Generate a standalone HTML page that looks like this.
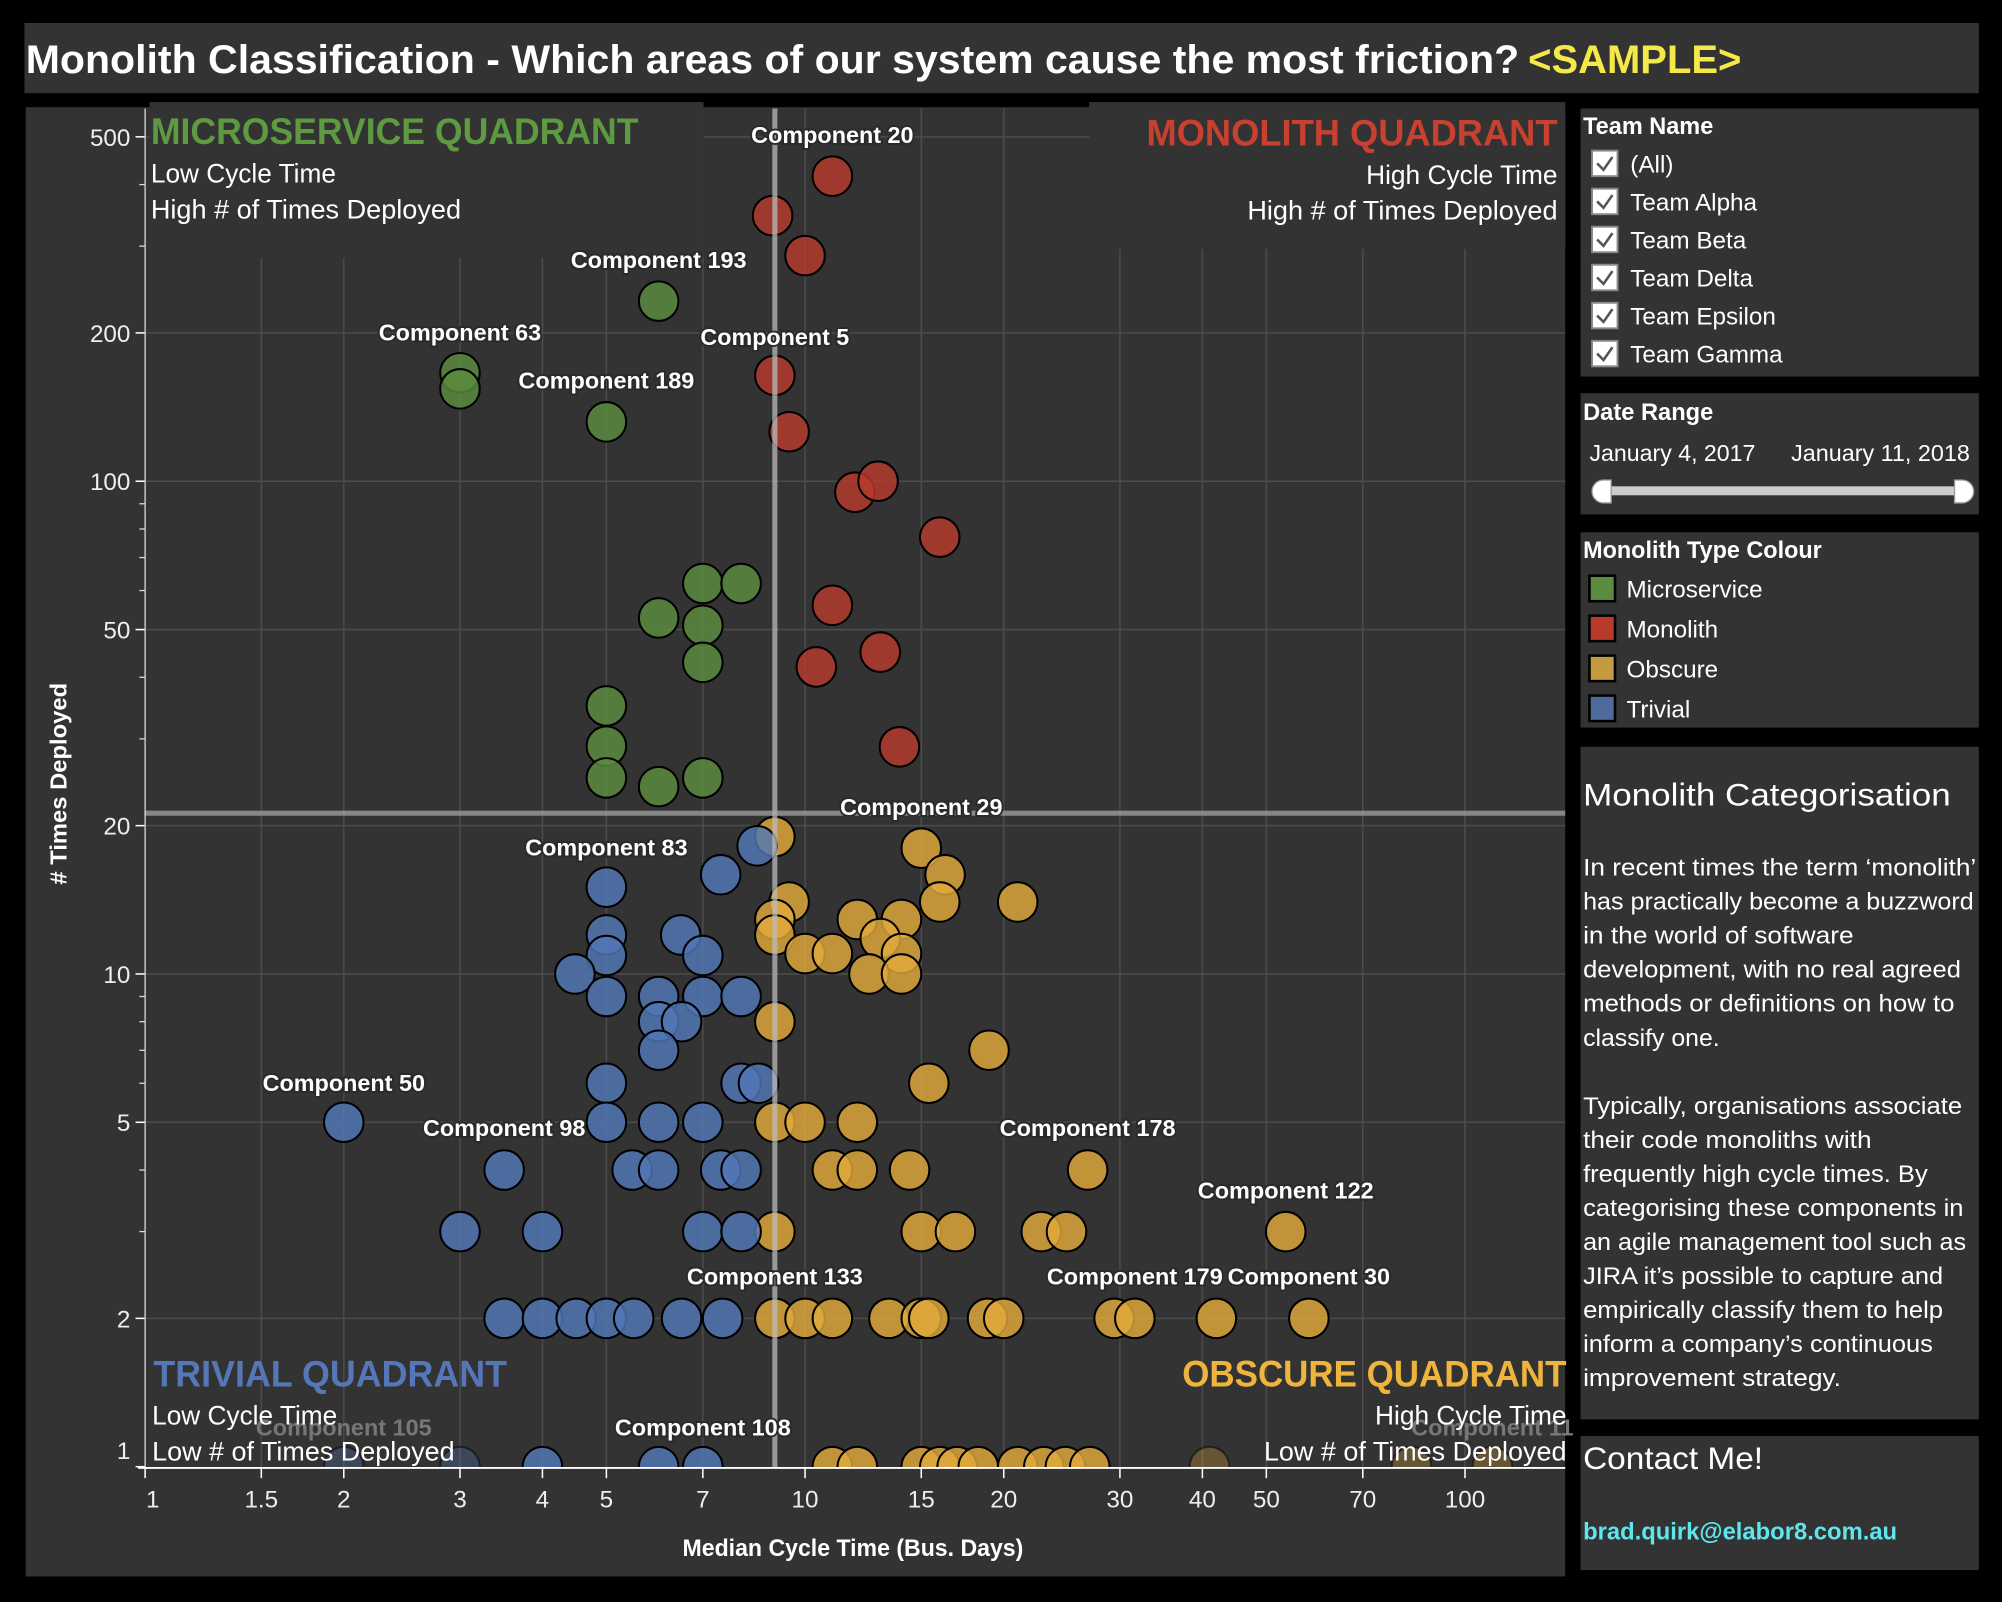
<!DOCTYPE html>
<html><head><meta charset="utf-8">
<style>
html,body{margin:0;padding:0;background:#000;}
svg{display:block;}
text{font-family:"Liberation Sans",sans-serif;}
</style></head>
<body>
<svg id="root" width="2002" height="1602" viewBox="0 0 1568 1255" xmlns="http://www.w3.org/2000/svg">
<rect x="0" y="0" width="1568" height="1255" fill="#000"/>
<rect x="19" y="18" width="1531" height="55" fill="#333"/>
<text x="20" y="57" font-size="31" font-weight="bold" fill="#fff" textLength="1170" lengthAdjust="spacingAndGlyphs">Monolith Classification - Which areas of our system cause the most friction?</text>
<text x="1197" y="57" font-size="31" font-weight="bold" fill="#f5e94a" textLength="167" lengthAdjust="spacingAndGlyphs">&lt;SAMPLE&gt;</text>

<rect x="20" y="84" width="1206" height="1151" fill="#333"/>
<defs><clipPath id="plotclip"><rect x="113" y="85" width="1113" height="1065"/></clipPath></defs>
<g id="grid"></g>
<rect x="117" y="80" width="434" height="122" fill="#333"/>
<rect x="853" y="80" width="373" height="115" fill="#333"/>
<g id="marks" clip-path="url(#plotclip)"></g>
<g id="reflines"></g>
<g id="axes"></g>
<g id="labels"></g>

<text x="118" y="113" font-size="29" font-weight="bold" fill="#5e9a42" textLength="382" lengthAdjust="spacingAndGlyphs">MICROSERVICE QUADRANT</text>
<text x="118" y="143" font-size="21" fill="#fff" textLength="145" lengthAdjust="spacingAndGlyphs">Low Cycle Time</text>
<text x="118" y="171" font-size="21" fill="#fff" textLength="243" lengthAdjust="spacingAndGlyphs">High # of Times Deployed</text>
<text x="1220" y="114" font-size="29" font-weight="bold" fill="#c8402f" text-anchor="end" textLength="322" lengthAdjust="spacingAndGlyphs">MONOLITH QUADRANT</text>
<text x="1220" y="144" font-size="21" fill="#fff" text-anchor="end" textLength="150" lengthAdjust="spacingAndGlyphs">High Cycle Time</text>
<text x="1220" y="172" font-size="21" fill="#fff" text-anchor="end" textLength="243" lengthAdjust="spacingAndGlyphs">High # of Times Deployed</text>
<text x="120" y="1086" font-size="29" font-weight="bold" fill="#5577b8" textLength="277" lengthAdjust="spacingAndGlyphs">TRIVIAL QUADRANT</text>
<text x="119" y="1116" font-size="21" fill="#fff" textLength="145" lengthAdjust="spacingAndGlyphs">Low Cycle Time</text>
<text x="119" y="1144" font-size="21" fill="#fff" textLength="237" lengthAdjust="spacingAndGlyphs">Low # of Times Deployed</text>
<text x="1227" y="1086" font-size="29" font-weight="bold" fill="#eeb43c" text-anchor="end" textLength="301" lengthAdjust="spacingAndGlyphs">OBSCURE QUADRANT</text>
<text x="1227" y="1116" font-size="21" fill="#fff" text-anchor="end" textLength="150" lengthAdjust="spacingAndGlyphs">High Cycle Time</text>
<text x="1227" y="1144" font-size="21" fill="#fff" text-anchor="end" textLength="237" lengthAdjust="spacingAndGlyphs">Low # of Times Deployed</text>

<text transform="translate(52,614) rotate(-90)" font-size="18" font-weight="bold" fill="#fff" text-anchor="middle" textLength="158" lengthAdjust="spacingAndGlyphs"># Times Deployed</text>
<text x="668" y="1219" font-size="19" font-weight="bold" fill="#fff" text-anchor="middle" textLength="267" lengthAdjust="spacingAndGlyphs">Median Cycle Time (Bus. Days)</text>

<g>
<rect x="1238" y="85" width="312" height="210" fill="#333"/>
<text x="1240" y="105" font-size="19" font-weight="bold" fill="#fff" textLength="102" lengthAdjust="spacingAndGlyphs">Team Name</text>
<g id="teams"></g>
</g>
<g>
<rect x="1238" y="308" width="312" height="95" fill="#333"/>
<text x="1240" y="329" font-size="19" font-weight="bold" fill="#fff" textLength="102" lengthAdjust="spacingAndGlyphs">Date Range</text>
<text x="1245" y="361" font-size="18" fill="#fff" textLength="130" lengthAdjust="spacingAndGlyphs">January 4, 2017</text>
<text x="1543" y="361" font-size="18" fill="#fff" text-anchor="end" textLength="140" lengthAdjust="spacingAndGlyphs">January 11, 2018</text>
<rect x="1254" y="381" width="280" height="7" fill="#ccc"/>
<path d="M1262,376 L1256,376 A8,8 0 0 0 1256,394 L1262,394 Z" fill="#fff" stroke="#999" stroke-width="1"/>
<path d="M1531,376 L1537,376 A8,8 0 0 1 1537,394 L1531,394 Z" fill="#fff" stroke="#999" stroke-width="1"/>
</g>
<g>
<rect x="1238" y="417" width="312" height="153" fill="#333"/>
<text x="1240" y="437" font-size="19" font-weight="bold" fill="#fff" textLength="187" lengthAdjust="spacingAndGlyphs">Monolith Type Colour</text>
<g id="legend"></g>
</g>
<g>
<rect x="1238" y="585" width="312" height="527" fill="#333"/>
<text x="1240" y="631" font-size="25" fill="#fff" textLength="288" lengthAdjust="spacingAndGlyphs">Monolith Categorisation</text>
<g id="para"></g>
</g>
<g>
<rect x="1238" y="1125" width="312" height="105" fill="#333"/>
<text x="1240" y="1151" font-size="25" fill="#fff" textLength="141" lengthAdjust="spacingAndGlyphs">Contact Me!</text>
<text x="1240" y="1206" font-size="19" font-weight="bold" fill="#5ee6ee" textLength="246" lengthAdjust="spacingAndGlyphs">brad.quirk@elabor8.com.au</text>
</g>
</svg>
<script>
// ---- data ----
const microX = [6, 3, 3, 5, 7, 8, 6, 7, 7, 5, 5, 5, 6, 7];
const microY = [232, 166, 154, 132, 62, 62, 52.8, 51, 42.9, 35, 29, 25, 24, 25];
const monoX = [11, 8.93, 10, 9, 9.46, 11.9, 12.9, 16, 11, 10.4, 13, 13.9];
const monoY = [416, 346, 287, 164, 126, 95, 100, 77, 56, 42, 45, 28.9];
const trivX = [2, 3.5, 3, 4, 8.46, 7.45, 5, 5, 5, 6.48, 7, 4.48, 5, 6, 7, 8, 6, 6.5, 6, 5, 8, 8.5, 5, 6, 7, 5.47, 6, 7.45, 8, 7, 8, 3.5, 4, 4.5, 5, 5.5, 6.5, 7.5, 2, 3, 4, 6, 7];
const trivY = [5, 4, 3, 3, 18.2, 15.9, 15, 12, 10.9, 12, 10.9, 10, 9, 9, 9, 9, 8, 8, 7, 6, 6, 6, 5, 5, 5, 4, 4, 4, 4, 3, 3, 2, 2, 2, 2, 2, 2, 2, 1, 1, 1, 1, 1];
const trivFaded = [38, 39];
const obscX = [9, 15, 16.3, 16, 21, 9.46, 9, 9, 12, 14, 13, 10, 11, 14, 12.5, 14, 9, 19, 15.4, 9, 10, 12, 11, 12, 14.4, 26.8, 9, 15, 16.9, 22.8, 24.9, 53.5, 9, 10, 11, 13.4, 15, 15.4, 18.9, 20, 29.4, 31.6, 42, 58, 11, 12, 15, 16, 17, 18.3, 21, 23, 24.8, 27, 41, 83, 110];
const obscY = [19, 18, 15.9, 14, 14, 14, 12.9, 12, 12.9, 12.9, 11.8, 11, 11, 11, 10, 10, 8, 7, 6, 5, 5, 5, 4, 4, 4, 4, 3, 3, 3, 3, 3, 3, 2, 2, 2, 2, 2, 2, 2, 2, 2, 2, 2, 2, 1, 1, 1, 1, 1, 1, 1, 1, 1, 1, 1, 1, 1];
const obscFaded = [54, 55, 56];
const labelNames = ["Component 20","Component 193","Component 63","Component 5","Component 189","Component 29","Component 83","Component 50","Component 98","Component 178","Component 122","Component 133","Component 179","Component 30","Component 108","Component 105","Component 11"];
const labelX = [11, 6, 3, 9, 5, 15, 5, 2, 3.5, 26.8, 53.5, 9, 31.6, 58, 7, 2, 110];
const labelY = [504, 281, 200, 196, 160, 21.8, 18.05, 6, 4.86, 4.86, 3.63, 2.43, 2.43, 2.43, 1.2, 1.2, 1.2];
const xTicks = [1, 1.5, 2, 3, 4, 5, 7, 10, 15, 20, 30, 40, 50, 70, 100];
const xTickLabels = ["1","1.5","2","3","4","5","7","10","15","20","30","40","50","70","100"];
const yTicks = [1, 2, 5, 10, 20, 50, 100, 200, 500];
const yTickLabels = ["1","2","5","10","20","50","100","200","500"];
const refX = 9.0;
const refY = 21.2;
const teams = ["(All)","Team Alpha","Team Beta","Team Delta","Team Epsilon","Team Gamma"];
const legendNames = ["Microservice","Monolith","Obscure","Trivial"];
const paragraph = ["In recent times the term \u2018monolith\u2019","has practically become a buzzword","in the world of software","development, with no real agreed","methods or definitions on how to","classify one.","","Typically, organisations associate","their code monoliths with","frequently high cycle times. By","categorising these components in","an agile management tool such as","JIRA it\u2019s possible to capture and","empirically classify them to help","inform a company\u2019s continuous","improvement strategy."];
const paraWidths = [308,306,212,296,291,107,0,297,226,270,298,300,282,282,274,202];

// ---- scales ----
const NS = "http://www.w3.org/2000/svg";
const X0 = 113.5, XD = 517, Y0 = 1149, YD = 386;
function xs(v){ return X0 + XD*Math.log10(v); }
function ys(v){ return Y0 - YD*Math.log10(v); }
function mk(tag, attrs, parent){ const e = document.createElementNS(NS, tag); for (const k in attrs) e.setAttribute(k, attrs[k]); parent.appendChild(e); return e; }

const grid = document.getElementById('grid');
xTicks.forEach((t,i)=>{ if(i===0) return;
  const l = mk('line',{x1:xs(t),x2:xs(t),y1:85,y2:1150,stroke:'#4c4c4c','stroke-width':1.2},grid);
  
  
});
yTicks.forEach((t,i)=>{ if(i===0) return;
  const l = mk('line',{x1:113,x2:1226,y1:ys(t),y2:ys(t),stroke:'#4c4c4c','stroke-width':1.2},grid);
  
  
});

const marks = document.getElementById('marks');
function series(xa, ya, fill, name, faded){
  xa.forEach((x,i)=>{
    const f = faded && faded.indexOf(i)>=0;
    const c = mk('circle',{cx:xs(x),cy:ys(ya[i]),r:15.5,fill:fill,'fill-opacity':f?0.3:0.82,stroke:'#000','stroke-opacity':f?0.5:1,'stroke-width':1.6},marks);
    
    
  });
}
series(obscX, obscY, '#e2aa3c', 'obscure-point', obscFaded);
series(trivX, trivY, '#5277b6', 'trivial-point', trivFaded);
series(microX, microY, '#5c8c3e', 'microservice-point');
series(monoX, monoY, '#b83a2c', 'monolith-point');

const ref = document.getElementById('reflines');
const rv = mk('line',{x1:xs(refX),x2:xs(refX),y1:85,y2:1150,stroke:'#bbb','stroke-opacity':0.75,'stroke-width':4},ref);


const rh = mk('line',{x1:113,x2:1226,y1:ys(refY),y2:ys(refY),stroke:'#aaa','stroke-opacity':0.7,'stroke-width':4},ref);



const axes = document.getElementById('axes');
const ya = mk('line',{x1:113.5,x2:113.5,y1:85,y2:1150,stroke:'#ddd','stroke-width':1},axes);


const xa = mk('line',{x1:108,x2:1226,y1:1150,y2:1150,stroke:'#fff','stroke-width':1.5},axes);


xTicks.forEach((t,i)=>{
  const tk = mk('line',{x1:xs(t),x2:xs(t),y1:1150,y2:1158,stroke:'#fff','stroke-width':1.2},axes);
  
  
  const tx = mk('text',{x:xs(t)+(i===0?6:0),y:1181,'font-size':19,fill:'#eee','text-anchor':'middle'},axes);
  tx.textContent = xTickLabels[i];
  
  
});
yTicks.forEach((t,i)=>{
  const tk = mk('line',{x1:106,x2:113,y1:ys(t),y2:ys(t),stroke:'#fff','stroke-width':1.2},axes);
  
  
  const tx = mk('text',{x:102,y:ys(t)+(i===0?-6:7),'font-size':19,fill:'#eee','text-anchor':'end'},axes);
  tx.textContent = yTickLabels[i];
  
  
});
[1,10,100].forEach(d=>{ [3,4,6,7,8,9].forEach(m=>{ const v=d*m; if(v>570) return;
  const tk = mk('line',{x1:109,x2:113,y1:ys(v),y2:ys(v),stroke:'#ddd','stroke-width':1},axes);
  
  
});});

const labels = document.getElementById('labels');
labelNames.forEach((n,i)=>{
  const faded = (n==="Component 105"||n==="Component 11");
  const t = mk('text',{x:xs(labelX[i]),y:ys(labelY[i])+6,'font-size':18,'font-weight':'bold',fill:faded?'#777':'#fff','text-anchor':'middle',stroke:'#2a2a2a','stroke-width':faded?0:3,'paint-order':'stroke','textLength':n.length*10.6,'lengthAdjust':'spacingAndGlyphs'},labels);
  t.textContent = n;
  
  
});

const tg = document.getElementById('teams');
teams.forEach((n,i)=>{
  const y = 128 + i*29.8;
  const b = mk('rect',{x:1247,y:y-10,width:20,height:20,fill:'#fff',stroke:'#888','stroke-width':1.5},tg);
  
  
  const c = mk('path',{d:`M${1251},${y} L${1256},${y+5} L${1263},${y-5}`,fill:'none',stroke:'#555','stroke-width':2},tg);
  
  
  const t = mk('text',{x:1277,y:y+7,'font-size':19,fill:'#fff'},tg);
  t.textContent = n;
  
  
});
const lg = document.getElementById('legend');
const legCols = ['#5c8c3e','#b83a2c','#c39a3e','#4e6b9a'];
legendNames.forEach((n,i)=>{
  const y = 461 + i*31.3;
  const s = mk('rect',{x:1245,y:y-10,width:20,height:20,fill:legCols[i],stroke:'#000','stroke-width':2},lg);
  
  
  const t = mk('text',{x:1274,y:y+7,'font-size':19,fill:'#fff'},lg);
  t.textContent = n;
  
  
});
const pg = document.getElementById('para');
paragraph.forEach((l,i)=>{
  if(!l) return;
  const t = mk('text',{x:1240,y:686+i*26.65,'font-size':19,fill:'#fff',textLength:paraWidths[i],lengthAdjust:'spacingAndGlyphs'},pg);
  t.textContent = l;
  
  
});
</script>
</body></html>
